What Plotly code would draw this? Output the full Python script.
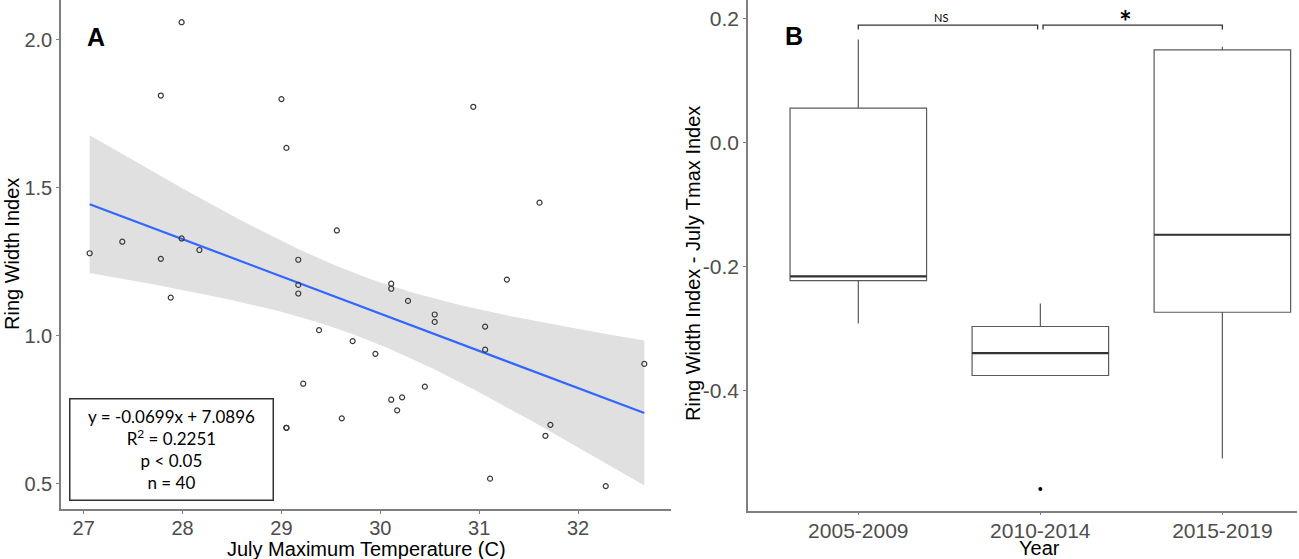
import numpy as np
import plotly.graph_objects as go

# Panel A: ring width index vs July max temperature (40 years, two overlap)
temp = [27.99, 27.78, 29.00, 29.05, 29.56, 27.06, 27.39, 27.78, 27.99, 28.17,
        29.17, 30.94, 31.61, 31.28, 29.17, 29.17, 27.88, 29.38, 29.22, 29.05,
        29.05, 30.11, 30.11, 30.28, 30.55, 30.55, 31.06, 29.72, 29.95, 31.06,
        32.67, 30.45, 30.11, 30.22, 30.17, 29.61, 31.72, 31.67, 31.11, 32.28]
rwi = [2.060, 1.812, 1.800, 1.635, 1.356, 1.279, 1.318, 1.260, 1.329, 1.290,
       1.257, 1.774, 1.450, 1.190, 1.172, 1.143, 1.129, 1.019, 0.838, 0.689,
       0.689, 1.176, 1.159, 1.118, 1.072, 1.047, 1.031, 0.982, 0.939, 0.953,
       0.905, 0.828, 0.784, 0.792, 0.748, 0.721, 0.699, 0.662, 0.517, 0.492]

stats_text = ["y = -0.0699x + 7.0896", "R<sup>2</sup> = 0.2251", "p < 0.05", "n = 40"]

# Panel B: precomputed box statistics
periods = ["2005-2009", "2010-2014", "2015-2019"]
q1 = [-0.223, -0.376, -0.274]
median = [-0.216, -0.340, -0.149]
q3 = [0.055, -0.297, 0.149]
lower = [-0.292, -0.376, -0.510]
upper = [0.166, -0.260, 0.154]
outlier_pos = [1]
outlier_val = [-0.559]

comparisons = [(0, 1, "NS"), (1, 2, "*")]
bracket_y = 0.189

FONT = "Arial, Liberation Sans, sans-serif"
GREY = "#4d4d4d"
AXIS = "#7f7f7f"

# linear fit + 95% confidence band (like geom_smooth(method="lm"))
x = np.array(temp)
y = np.array(rwi)
n = len(x)
b1, b0 = np.polyfit(x, y, 1)
resid = y - (b0 + b1 * x)
s = np.sqrt(np.sum(resid ** 2) / (n - 2))
sxx = np.sum((x - x.mean()) ** 2)
xg = np.linspace(x.min(), x.max(), 80)
fit = b0 + b1 * xg
se = s * np.sqrt(1 / n + (xg - x.mean()) ** 2 / sxx)
t_crit = 2.024
lo = fit - t_crit * se
hi = fit + t_crit * se

fig = go.Figure()

fig.add_trace(go.Scatter(
    x=np.concatenate([xg, xg[::-1]]), y=np.concatenate([hi, lo[::-1]]),
    fill="toself", fillcolor="#e0e0e0", line=dict(width=0),
    mode="lines", hoverinfo="skip", xaxis="x", yaxis="y"
))
fig.add_trace(go.Scatter(
    x=xg, y=fit, mode="lines", line=dict(color="#3366ff", width=2.2),
    xaxis="x", yaxis="y"
))
fig.add_trace(go.Scatter(
    x=temp, y=rwi, mode="markers",
    marker=dict(symbol="circle-open", size=5, color="#3a3a3a", line=dict(width=1.2)),
    xaxis="x", yaxis="y"
))

# boxes
pos = list(range(len(periods)))
fig.add_trace(go.Box(
    x=pos, q1=q1, median=median, q3=q3, lowerfence=lower, upperfence=upper,
    width=0.75, fillcolor="white", line=dict(color="#5a5a5a", width=1.2),
    whiskerwidth=0, xaxis="x2", yaxis="y2", hoverinfo="skip"
))
half = 0.375
mx, my = [], []
for p, m in zip(pos, median):
    mx += [p - half, p + half, None]
    my += [m, m, None]
fig.add_trace(go.Scatter(
    x=mx, y=my, mode="lines", line=dict(color="#333333", width=2.2),
    xaxis="x2", yaxis="y2"
))
fig.add_trace(go.Scatter(
    x=outlier_pos, y=outlier_val, mode="markers",
    marker=dict(color="black", size=4), xaxis="x2", yaxis="y2"
))

# significance brackets
for a, b, label in comparisons:
    xa = a + (0.015 if a > 0 else 0)
    xb = b - (0.015 if b < len(periods) - 1 else 0)
    fig.add_trace(go.Scatter(
        x=[xa, xa, xb, xb], y=[bracket_y - 0.007, bracket_y, bracket_y, bracket_y - 0.007],
        mode="lines", line=dict(color="#333333", width=1.3),
        xaxis="x2", yaxis="y2"
    ))
    big = label == "*"
    fig.add_annotation(
        x=(xa + xb) / 2, y=bracket_y, xref="x2", yref="y2",
        text="<b>*</b>" if big else label, showarrow=False,
        yanchor="bottom", yshift=-16 if big else -1, xshift=-7,
        font=dict(family="Lato, sans-serif", size=30 if big else 11, color="black")
    )

axis_common = dict(
    showgrid=False, zeroline=False, showline=True, linecolor=AXIS, linewidth=1.5,
    ticks="outside", ticklen=3, tickcolor=AXIS, tickwidth=1,
    tickfont=dict(family=FONT, size=20, color=GREY)
)

fig.update_layout(
    width=1299, height=559,
    margin=dict(l=0, r=0, t=0, b=0),
    paper_bgcolor="white", plot_bgcolor="white",
    showlegend=False,
    xaxis=dict(domain=[61 / 1299, 671 / 1299], range=[26.77, 32.94],
               tickvals=[27, 28, 29, 30, 31, 32], anchor="y", **axis_common),
    yaxis=dict(domain=[49.7 / 559, 1], range=[0.4135, 2.135],
               tickvals=[0.5, 1.0, 1.5, 2.0], tickformat=".1f", anchor="x", **axis_common),
    xaxis2=dict(domain=[748 / 1299, 1297 / 1299], range=[-0.606, 2.41],
                tickvals=pos, ticktext=periods, anchor="y2", **axis_common),
    yaxis2=dict(domain=[48.3 / 559, 1], range=[-0.594, 0.2295],
                tickvals=[-0.4, -0.2, 0.0, 0.2], ticktext=["-0.4", "-0.2", "0.0", "0.2"],
                anchor="x2", **axis_common),
)
fig.update_xaxes(ticklabelstandoff=-3)
fig.update_yaxes(tickfont_size=21, selector=dict(anchor="x2"))
fig.update_xaxes(tickfont_size=21, selector=dict(anchor="y2"))

# titles and panel labels
title_font = dict(family=FONT, size=20, color="black")
fig.add_annotation(text="July Maximum Temperature (C)", x=366 / 1299, y=1 - 549 / 559,
                   xref="paper", yref="paper", showarrow=False, font=title_font,
                   xanchor="center", yanchor="middle")
fig.add_annotation(text="Ring Width Index", x=12 / 1299, y=1 - 254 / 559,
                   xref="paper", yref="paper", showarrow=False, font=title_font,
                   textangle=-90, xanchor="center", yanchor="middle")
fig.add_annotation(text="Year", x=1039 / 1299, y=1 - 548 / 559,
                   xref="paper", yref="paper", showarrow=False, font=title_font,
                   xanchor="center", yanchor="middle")
fig.add_annotation(text="Ring Width Index - July Tmax Index", x=693 / 1299, y=1 - 264 / 559,
                   xref="paper", yref="paper", showarrow=False, font=title_font,
                   textangle=-90, xanchor="center", yanchor="middle")
fig.add_annotation(text="<b>A</b>", x=96 / 1299, y=1 - 37 / 559, xref="paper", yref="paper",
                   showarrow=False, font=dict(family=FONT, size=25, color="black"),
                   xanchor="center", yanchor="middle")
fig.add_annotation(text="<b>B</b>", x=794 / 1299, y=1 - 36 / 559, xref="paper", yref="paper",
                   showarrow=False, font=dict(family=FONT, size=25, color="black"),
                   xanchor="center", yanchor="middle")

# stats box
fig.add_annotation(text="<br>".join(stats_text), x=171 / 1299, y=1 - 449 / 559,
                   xref="paper", yref="paper", showarrow=False,
                   font=dict(family="Lato, sans-serif", size=17, color="black"),
                   align="center", xanchor="center", yanchor="middle",
                   width=200, height=98, bgcolor="white",
                   bordercolor="#333333", borderwidth=1.5, borderpad=1)

fig.write_html("out.html", config={"displayModeBar": False},
               post_script="document.body.style.margin='0';")
